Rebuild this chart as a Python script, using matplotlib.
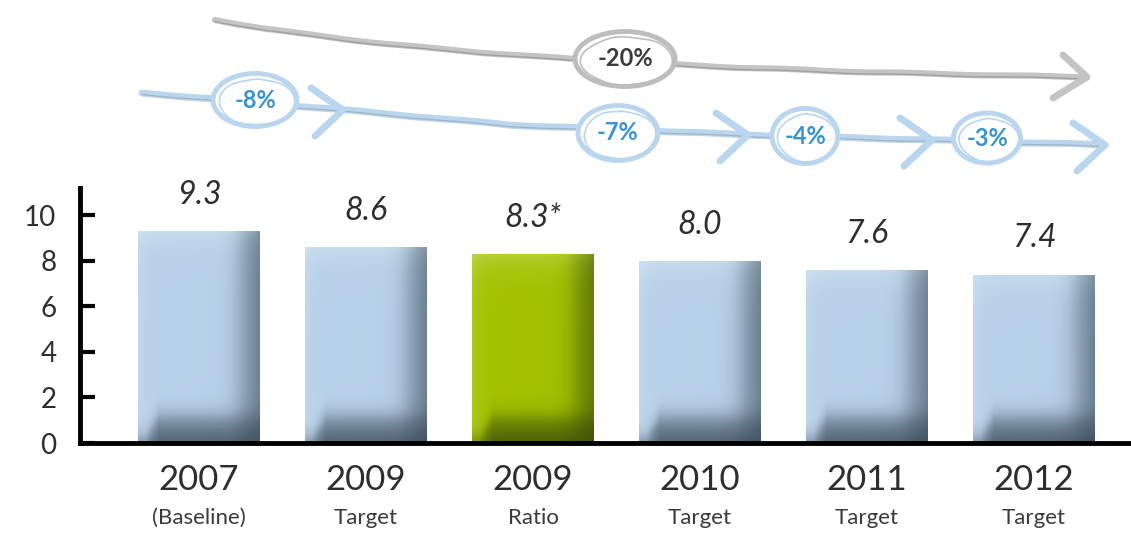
import numpy as np
import matplotlib
matplotlib.use('Agg')
import matplotlib.pyplot as plt
from matplotlib.patches import Ellipse, PathPatch
from matplotlib.path import Path
from matplotlib.transforms import Affine2D

# chart data
years = ['2007', '2009', '2009', '2010', '2011', '2012']
sublabels = ['(Baseline)', 'Target', 'Ratio', 'Target', 'Target', 'Target']
values = [9.3, 8.6, 8.3, 8.0, 7.6, 7.4]
value_labels = ['9.3', '8.6', '8.3*', '8.0', '7.6', '7.4']
highlight = 2  # the actual 2009 ratio
change_total = '-20%'
change_steps = ['-8%', '-7%', '-4%', '-3%']

FONT = 'Lato'
TXT = '#2e2e2e'
BLUE = np.array([0.72, 0.82, 0.91])
BLUE_DARK = np.array([0.22, 0.28, 0.34])
BLUE_LIGHT = np.array([0.86, 0.91, 0.96])
GREEN = np.array([0.64, 0.76, 0.0])
GREEN_DARK = np.array([0.22, 0.28, 0.04])
GREEN_LIGHT = np.array([0.80, 0.87, 0.45])


# Paints a 3d-ish "inset box" shading inside a bar, clipped to the bar.
def shade_bar(ax, patch, base, dark, light):
    x0, w, h = patch.get_x(), patch.get_width(), patch.get_height()
    ny, nx = 240, 140
    u = np.linspace(0, 1, nx)[None, :]
    y = np.linspace(h, 0, ny)[:, None]
    right = 1 / (1 + np.exp(-(u - 0.8) / 0.05))
    right_d = right * (0.28 + 1.4 * np.clip(u - 0.78, 0, None))
    bot_h = 1.3 * np.clip((u - 0.01) / 0.16, 0.3, 1)
    bottom = 1 / (1 + np.exp(-(bot_h - y) / 0.22))
    bottom_d = bottom * (0.4 + 0.4 * np.clip((bot_h - y) / 1.3, 0, 1))
    d = 1 - (1 - right_d) * (1 - bottom_d)
    lt = 0.45 * np.exp(-(h - y) / 0.6) + 0.25 * np.exp(-u / 0.07)
    lt = np.clip(lt, 0, 0.6) * (1 - d)
    rgb = base * (1 - d[..., None]) + dark * d[..., None]
    rgb = rgb * (1 - lt[..., None]) + light * lt[..., None]
    im = ax.imshow(rgb, extent=(x0, x0 + w, 0, h), aspect='auto',
                   interpolation='bilinear', zorder=patch.get_zorder() + 0.1)
    im.set_clip_path(patch)


def make_plot():
    fig = plt.figure(figsize=(11.31, 5.34), dpi=100)
    ax = fig.add_axes([80 / 1131, 91 / 534, 1051 / 1131, 255 / 534])

    x = np.arange(len(values))
    colors = ['#b8d1e8'] * len(values)
    colors[highlight] = '#a3c200'
    bars = ax.bar(x, values, width=0.725, color=colors, zorder=2)
    for i, b in enumerate(bars):
        if i == highlight:
            shade_bar(ax, b, GREEN, GREEN_DARK, GREEN_LIGHT)
        else:
            shade_bar(ax, b, BLUE, BLUE_DARK, BLUE_LIGHT)

    for xi, v, lab in zip(x, values, value_labels):
        ax.annotate(lab, (xi, v), xytext=(0, 26), textcoords='offset points',
                    ha='center', va='center', fontsize=23, style='italic',
                    family=FONT, color=TXT, annotation_clip=False)

    ax.set_xlim(-0.7126, 5.581)
    ax.set_ylim(0, 11.2)
    ax.set_xticks(x, years)
    ax.set_yticks(range(0, 11, 2))
    ax.tick_params(axis='x', length=0, pad=15, labelsize=25, labelcolor=TXT)
    ax.tick_params(axis='y', direction='in', length=11, width=3, pad=17,
                   labelsize=20, labelcolor=TXT)
    for lab in ax.get_xticklabels() + ax.get_yticklabels():
        lab.set_family(FONT)
    for xi, s in zip(x, sublabels):
        ax.annotate(s, (xi, 0), xytext=(0, -54), textcoords='offset points',
                    ha='center', va='center', fontsize=16, family=FONT,
                    color='#3a3a3a', annotation_clip=False)

    for side in ['top', 'right']:
        ax.spines[side].set_visible(False)
    for side in ['left', 'bottom']:
        ax.spines[side].set_linewidth(3.5)
        ax.spines[side].set_color('black')

    # decorative reduction arrows above the bars (pixel space overlay)
    oax = fig.add_axes([0, 0, 1, 1], zorder=-1)
    oax.set_xlim(0, 1131)
    oax.set_ylim(534, 0)
    oax.axis('off')

    grey = '#c4c4c4'
    gpath = Path([(215, 20), (470, 68), (1087, 77)],
                 [Path.MOVETO, Path.CURVE3, Path.CURVE3])
    for lw, col, dy in [(4.5, grey, 0), (1.0, '#a0a0a0', 1.5)]:
        p = PathPatch(gpath.transformed(Affine2D().translate(0, dy)),
                      fill=False, lw=lw, ec=col, capstyle='round', zorder=1)
        p.set_sketch_params(0.4, 120, 1)
        oax.add_patch(p)
    oax.plot([1063, 1087, 1053], [55, 77, 98], color=grey, lw=5,
             solid_capstyle='round', solid_joinstyle='round', zorder=1)

    lblue = '#b9d6ee'
    bx = [142, 343, 510, 748, 932, 1105]
    by = [93, 110, 125, 135, 140, 145]
    l1, = oax.plot(bx, by, color=lblue, lw=5, solid_capstyle='round', zorder=1)
    l1.set_sketch_params(0.4, 120, 1)
    l2, = oax.plot(bx, [v + 1.5 for v in by], color='#a3b3c2', lw=0.9, zorder=1)
    l2.set_sketch_params(0.4, 120, 1)
    for tx, ty in [(343, 110), (748, 135), (932, 140), (1105, 145)]:
        oax.plot([tx - 32, tx, tx - 28], [ty - 22, ty, ty + 26], color=lblue,
                 lw=5, solid_capstyle='round', solid_joinstyle='round', zorder=1)

    badges = [(625, 59, 100, 55), (255, 100, 84, 53), (618, 133, 80, 55),
              (805, 136, 66, 55), (987, 138, 67, 50)]
    texts = [change_total] + change_steps
    for k, ((cx, cy, w, h), t) in enumerate(zip(badges, texts)):
        edge = '#bdbdbd' if k == 0 else lblue
        tcol = '#3c3c3c' if k == 0 else '#3a93cf'
        oax.add_patch(Ellipse((cx, cy), w, h, fc='white', ec=edge, lw=3.5,
                              zorder=3))
        e2 = Ellipse((cx + 2, cy + 2), w - 8, h - 7, fill=False, ec=edge,
                     lw=1.2, zorder=3)
        e2.set_sketch_params(0.6, 40, 1)
        oax.add_patch(e2)
        oax.text(cx, cy, t, ha='center', va='center', fontsize=17,
                 family=FONT, weight='bold', color=tcol, zorder=4)

    fig.savefig('out.png', dpi=100)


if __name__ == "__main__":
    make_plot()
